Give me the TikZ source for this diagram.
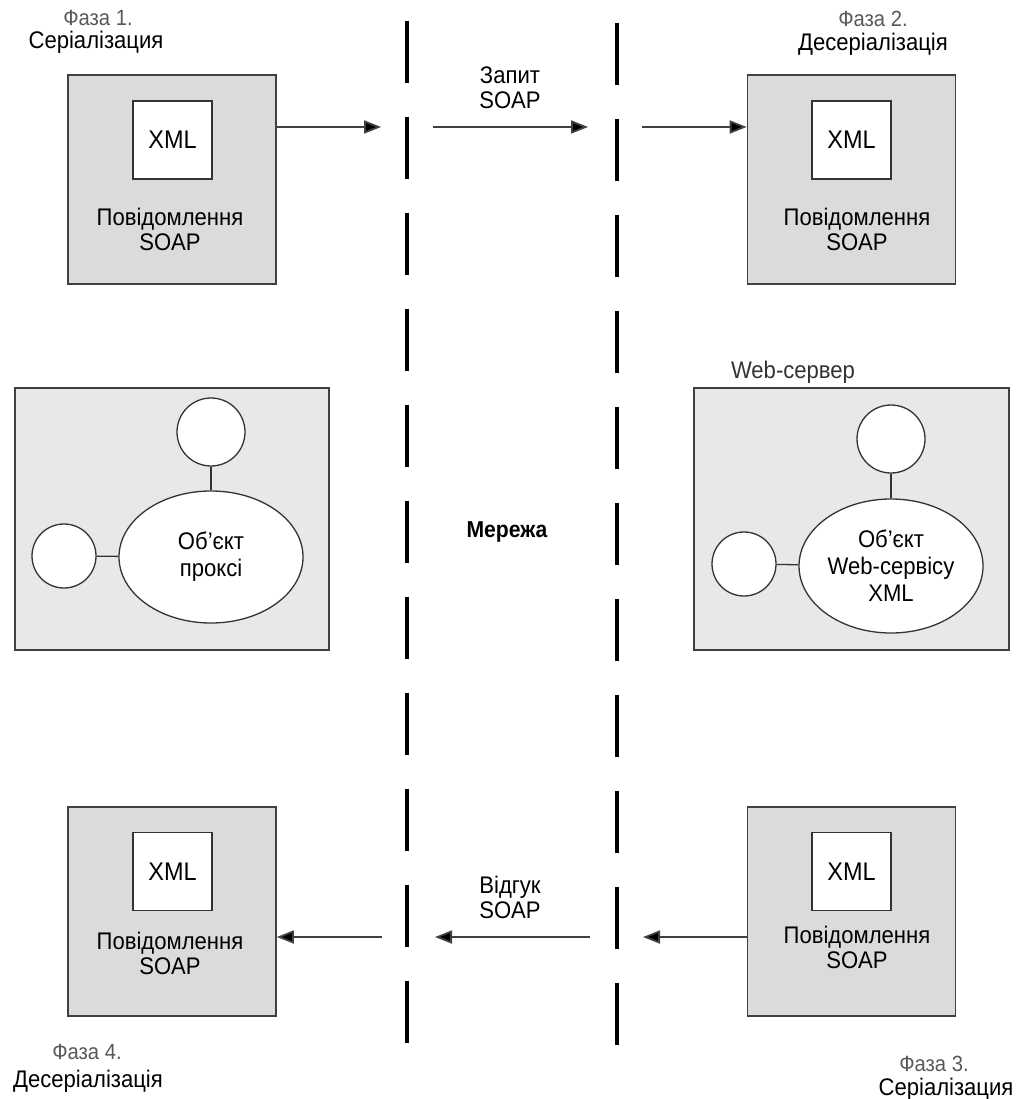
\documentclass[tikz,border=0pt]{standalone}
\usepackage{fontspec}
\setmainfont[FakeStretch=0.92]{Liberation Sans}
\usetikzlibrary{arrows.meta,shapes.geometric,calc}

\begin{document}
\begin{tikzpicture}[x=1pt,y=-1pt,
  msgbox/.style={draw=black!75, line width=1.6pt, fill=black!14,
    minimum width=208pt, minimum height=209pt, inner sep=0pt},
  hostbox/.style={draw=black!75, line width=1.6pt, fill=black!9,
    minimum width=314pt, minimum height=262pt, inner sep=0pt},
  xmlbox/.style={draw=black!80, line width=1.4pt, fill=white,
    minimum width=79pt, minimum height=78pt, inner sep=0pt,
    font=\fontsize{25.5}{28}\selectfont},
  port/.style={circle, draw=black!80, line width=1.3pt, fill=white, inner sep=0pt},
  objshape/.style={ellipse, draw=black!80, line width=1.3pt, fill=white, inner sep=0pt,
    align=center, font=\fontsize{24}{27}\selectfont},
  lbl/.style={font=\fontsize{24}{25}\selectfont, align=center, inner sep=0pt},
  phase/.style={font=\fontsize{22}{25}\selectfont, inner sep=0pt, anchor=base, text=black!65},
  phasename/.style={font=\fontsize{24}{25}\selectfont, inner sep=0pt, anchor=base},
  flow/.style={draw=black!75, line width=1.8pt,
    -{Triangle[length=17pt,width=13pt,fill=black]}},
  link/.style={draw=black!80, line width=1.3pt},
  netline/.style={line width=3.5pt, dash pattern=on 62pt off 34pt}
]
\useasboundingbox (0,0) rectangle (1020,1099);

% network boundaries
\draw[netline] (407,21) -- (407,1043);
\draw[netline] (617,23) -- (617,1045);
\node[font=\bfseries\fontsize{23}{25}\selectfont] (net) at (507,532) {Мережа};

% phase 1: serialization on the client
\node[phase] (ph1) at (98,26) {Фаза 1.};
\node[phasename] (ph1n) at (96,49) {Серіалізация};
\node[msgbox] (req1) at (172,179.5) {};
\node[xmlbox] (xml1) at (172.5,140) {XML};
\node[lbl] (req1t) at (170,229) {Повідомлення\\SOAP};

% phase 2: deserialization on the server
\node[phase] (ph2) at (873,27) {Фаза 2.};
\node[phasename] (ph2n) at (873,51) {Десеріалізація};
\node[msgbox] (req2) at (851.5,179.5) {};
\node[xmlbox] (xml2) at (851.5,140) {XML};
\node[lbl] (req2t) at (857,229) {Повідомлення\\SOAP};

% request path
\coordinate (g1) at (381,127);
\coordinate (g2) at (433,127);
\coordinate (g3) at (588,127);
\coordinate (g4) at (642,127);
\draw[flow] (req1.east |- g1) -- (g1);
\draw[flow] (g2) -- (g3);
\draw[flow] (g4) -- (req2.west |- g4);
\node[lbl] (reqlbl) at (510,87.5) {Запит\\SOAP};

% client host with proxy object
\node[hostbox] (client) at (172,519) {};
\node[port] (cp1) at (211,432) [minimum size=68pt] {};
\node[objshape, minimum width=184pt, minimum height=132pt] (proxy) at (211,557) {Об'єкт\\проксі};
\node[port] (cp2) at (64,556) [minimum size=64pt] {};
\draw[link] (cp1) -- (proxy);
\draw[link] (cp2) -- (proxy);

% web server with service object
\node[font=\fontsize{24}{25}\selectfont, text=black!80] (srvlbl) at (793,372) {Web-сервер};
\node[hostbox, minimum width=315pt] (server) at (851.5,519) {};
\node[port] (sp1) at (891,439) [minimum size=68pt] {};
\node[objshape, minimum width=184pt, minimum height=134pt] (svc) at (891,566) {Об'єкт\\Web-сервісу\\XML};
\node[port] (sp2) at (744,564) [minimum size=64pt] {};
\draw[link] (sp1) -- (svc);
\draw[link] (sp2) -- (svc);

% phase 3: serialization on the server
\node[msgbox] (resp2) at (851.5,911.5) {};
\node[xmlbox] (xml3) at (851.5,871.5) {XML};
\node[lbl] (resp2t) at (857,947.5) {Повідомлення\\SOAP};
\node[phase] (ph3) at (934,1071) {Фаза 3.};
\node[phasename] (ph3n) at (946,1095) {Серіалізация};

% phase 4: deserialization on the client
\node[msgbox] (resp1) at (172,911.5) {};
\node[xmlbox] (xml4) at (172.5,871.5) {XML};
\node[lbl] (resp1t) at (170,953.5) {Повідомлення\\SOAP};
\node[phase] (ph4) at (87,1059) {Фаза 4.};
\node[phasename] (ph4n) at (88,1087) {Десеріалізація};

% response path
\coordinate (h1) at (382,937);
\coordinate (h2) at (435,937);
\coordinate (h3) at (590,937);
\coordinate (h4) at (643,937);
\draw[flow] (resp2.west |- h4) -- (h4);
\draw[flow] (h3) -- (h2);
\draw[flow] (h1) -- (resp1.east |- h1);
\node[lbl] (resplbl) at (510,897) {Відгук\\SOAP};
\end{tikzpicture}
\end{document}
